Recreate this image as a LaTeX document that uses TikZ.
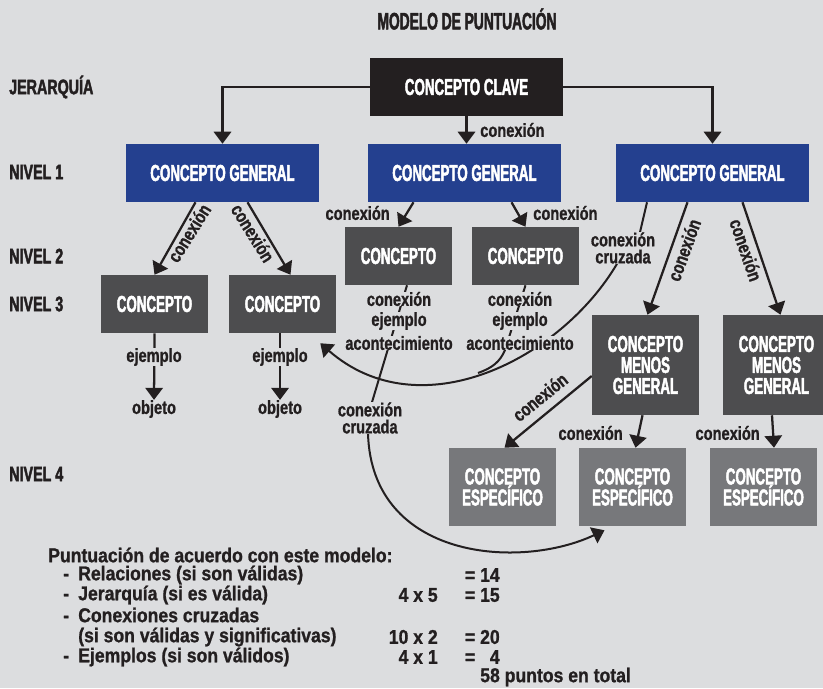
\documentclass[tikz,border=0pt]{standalone}
\usepackage{fontspec}
\setmainfont{Liberation Sans}
\newfontfamily\cajafont[FakeStretch=0.58,FakeBold=2]{Liberation Sans}
\newfontfamily\nivelfont[FakeStretch=0.68,FakeBold=2]{Liberation Sans}
\newfontfamily\etiqfont[FakeStretch=0.77,FakeBold=1]{Liberation Sans}
\newfontfamily\puntfont[FakeStretch=0.88,FakeBold=1]{Liberation Sans}
\usetikzlibrary{arrows.meta,calc}

\definecolor{fondo}{RGB}{220,221,223}
\definecolor{tinta}{RGB}{35,31,32}
\definecolor{azulgen}{RGB}{36,64,143}
\definecolor{grisosc}{RGB}{77,77,79}
\definecolor{grismed}{RGB}{119,120,123}

\pgfdeclarelayer{atras}
\pgfsetlayers{atras,main}

\newcommand{\guion}{\makebox[11.25pt][l]{-}}

\begin{document}
\begin{tikzpicture}[x=0.75pt,y=-0.75pt,line join=round,>={Triangle[width=13pt,length=9pt]},
    caja/.style={text=white,inner sep=0pt,align=center,
      font=\cajafont\bfseries\fontsize{17.25pt}{15.75pt}\selectfont},
    ancha/.style={caja,minimum width=144.75pt,minimum height=43.5pt},
    corta/.style={caja,fill=grisosc,minimum width=80.25pt,minimum height=43.5pt},
    menos/.style={caja,fill=grisosc,minimum width=80.25pt,minimum height=75pt},
    espec/.style={caja,fill=grismed,minimum width=80.25pt,minimum height=58.5pt},
    nivel/.style={anchor=west,text=tinta,inner sep=0pt,
      font=\nivelfont\bfseries\fontsize{15.75pt}{18pt}\selectfont},
    etiq/.style={text=tinta,inner sep=0pt,align=center,
      font=\etiqfont\bfseries\fontsize{14.25pt}{12.75pt}\selectfont},
    sobre/.style={etiq,fill=fondo},
    punt/.style={text=tinta,inner sep=0pt,
      font=\puntfont\bfseries\fontsize{15pt}{15pt}\selectfont},
    flecha/.style={->,draw=tinta,line width=1.7pt},
    cruce/.style={draw=tinta,line width=1.5pt}]
  \useasboundingbox (0,0) rectangle (823,688);

  % titulo y niveles
  \node[caja,text=tinta,font=\cajafont\bfseries\fontsize{17.8pt}{18pt}\selectfont] (titulo) at (467,19) {MODELO DE PUNTUACIÓN};
  \node[nivel] (jer)  at (9,87)  {JERARQUÍA};
  \node[nivel] (niv1) at (9,172) {NIVEL 1};
  \node[nivel] (niv2) at (9,256) {NIVEL 2};
  \node[nivel] (niv3) at (9,304) {NIVEL 3};
  \node[nivel] (niv4) at (9,474) {NIVEL 4};

  % cajas
  \node[ancha,fill=tinta]   (clave) at (466.5,87)  {CONCEPTO CLAVE};
  \node[ancha,fill=azulgen] (gen1)  at (222.5,173) {CONCEPTO GENERAL};
  \node[ancha,fill=azulgen] (gen2)  at (464.5,173) {CONCEPTO GENERAL};
  \node[ancha,fill=azulgen] (gen3)  at (712.5,173) {CONCEPTO GENERAL};
  \node[corta] (c2a) at (398.5,256) {CONCEPTO};
  \node[corta] (c2b) at (525.5,256) {CONCEPTO};
  \node[corta] (c3a) at (154.5,304) {CONCEPTO};
  \node[corta] (c3b) at (282.5,304) {CONCEPTO};
  \node[menos] (mg1) at (645.5,365) {CONCEPTO\\MENOS\\GENERAL};
  \node[menos] (mg2) at (776.5,365) {CONCEPTO\\MENOS\\GENERAL};
  \node[espec] (esp1) at (502.5,487) {CONCEPTO\\ESPECÍFICO};
  \node[espec] (esp2) at (632.5,487) {CONCEPTO\\ESPECÍFICO};
  \node[espec] (esp3) at (763.5,487) {CONCEPTO\\ESPECÍFICO};

  % etiquetas de conexiones
  \node[etiq,anchor=west] (lc0) at (480,130) {conexión};
  \node[etiq,rotate=58]  (lc1) at (189,233) {conexión};
  \node[etiq,rotate=-58] (lc2) at (253,233) {conexión};
  \node[etiq,anchor=east] (lc3) at (390,213) {conexión};
  \node[etiq,anchor=west] (lc4) at (533,213) {conexión};
  \node[etiq,rotate=70]  (lc5) at (684,250) {conexión};
  \node[etiq,rotate=-71] (lc6) at (746,250) {conexión};
  \node[etiq,rotate=39]  (lc7) at (540,397) {conexión};
  \node[etiq,anchor=east] (lc8) at (623,433) {conexión};
  \node[etiq,anchor=east] (lc9) at (760,433) {conexión};
  \node[sobre] (ej1) at (154,357) {ejemplo};
  \node[etiq]  (ob1) at (154,409) {objeto};
  \node[sobre] (ej2) at (280,357) {ejemplo};
  \node[etiq]  (ob2) at (280,409) {objeto};
  \node[sobre] (ta1) at (399,299) {conexión};
  \node[sobre] (ta2) at (399,321) {ejemplo};
  \node[sobre] (ta3) at (399,343) {acontecimiento};
  \node[sobre] (tb1) at (520,299) {conexión};
  \node[sobre] (tb2) at (520,321) {ejemplo};
  \node[sobre] (tb3) at (520,343) {acontecimiento};
  \node[sobre] (crz1) at (370,418) {conexión\\cruzada};
  \node[sobre] (crz2) at (623,248) {conexión\\cruzada};
  \coordinate (junta) at (478,373);

  % puntuacion
  \node[punt,anchor=west] (p0) at (48,555) {Puntuación de acuerdo con este modelo:};
  \node[punt,anchor=west] (p1) at (63,575) {\guion Relaciones (si son válidas)};
  \node[punt,anchor=west] (p2) at (63,595) {\guion Jerarquía (si es válida)};
  \node[punt,anchor=west] (p3) at (63,615) {\guion Conexiones cruzadas};
  \node[punt,anchor=west] (p4) at (78,637) {(si son válidas y significativas)};
  \node[punt,anchor=west] (p5) at (63,657) {\guion Ejemplos (si son válidos)};
  \node[punt,anchor=east] (m2) at (438,595) {4 x 5};
  \node[punt,anchor=east] (m4) at (438,637) {10 x 2};
  \node[punt,anchor=east] (m5) at (438,657) {4 x 1};
  \node[punt,anchor=east] (r1) at (500,575) {= 14};
  \node[punt,anchor=east] (r2) at (500,595) {= 15};
  \node[punt,anchor=east] (r4) at (500,637) {= 20};
  \node[punt,anchor=east] (r5) at (500,657) {= \phantom{1}4};
  \node[punt,anchor=west] (total) at (480,677) {58 puntos en total};

  \begin{pgfonlayer}{atras}
    \fill[fondo] (0,0) rectangle (823,688);
    % jerarquia
    \draw[flecha] (clave.west) -| (gen1.north);
    \draw[flecha] (clave.east) -| (gen3.north);
    \draw[flecha] (clave.south) -- (clave.south |- gen2.north);
    \draw[flecha] ($(gen1.south)+(-27,0)$) -- (c3a.north);
    \draw[flecha] ($(gen1.south)+(25,0)$) -- ($(c3b.north)+(8,0)$);
    \draw[flecha] ($(gen2.south)+(-51,0)$) -- (c2a.north);
    \draw[flecha] ($(gen2.south)+(47,0)$) -- (c2b.north);
    \draw[flecha] ($(gen3.south)+(-25,0)$) -- ($(mg1.north)+(2,0)$);
    \draw[flecha] ($(gen3.south)+(30,0)$) -- ($(mg2.north)+(4,0)$);
    \draw[flecha] ($(mg1.west)+(0,11)$) -- ($(esp1.north)+(2,0)$);
    \draw[flecha] ($(mg1.south)+(-3,0)$) -- ($(esp2.north)+(3,0)$);
    \draw[flecha] ($(mg2.south)+(-4.5,0)$) -- ($(esp3.north)+(10.5,0)$);
    % ejemplos
    \draw[flecha] (c3a.south) -- (ob1.north);
    \draw[flecha] ($(c3b.south)+(-2.5,0)$) -- (ob2.north);
    % conexiones cruzadas
    \draw[cruce] ($(c2a.south)+(8.5,0)$) -- ($(crz1.north)+(2,0)$);
    \draw[cruce,->] ($(crz1.south)+(-2,0)$) .. controls (372,560) and (520,570) .. ($(esp2.south)+(-28,4)$);
    \draw[cruce] ($(gen3.south)+(-65.5,0)$) -- ($(crz2.north)+(17,0)$);
    \draw[cruce,->] ($(crz2.south)+(-6,0)$) .. controls (560,360) and (420,430) .. ($(c3b.south east)+(-16,10)$);
    \draw[cruce] (c2b.south) -- (505,350) .. controls (500,362) and (492,368) .. (junta);
  \end{pgfonlayer}
\end{tikzpicture}
\end{document}
